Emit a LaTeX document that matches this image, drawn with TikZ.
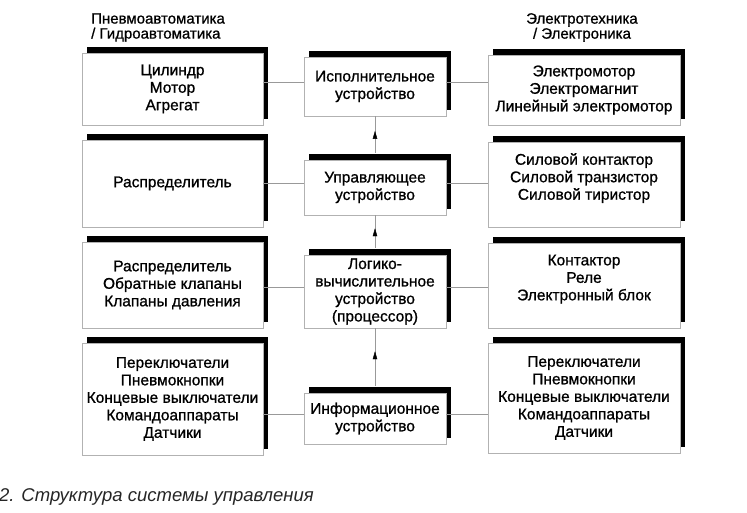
\documentclass[tikz,border=0pt]{standalone}
\usepackage{fontspec}
\setmainfont{Liberation Sans}
\newfontfamily\scanfont{Liberation Sans}[FakeBold=0.9]
\usetikzlibrary{shadows,arrows.meta,decorations.markings}
\begin{document}
\begin{tikzpicture}[x=1pt,y=1pt]
\useasboundingbox (0,0) rectangle (747,513);

\tikzstyle{blk} = [draw=black!30, thin, fill=white, shape=rectangle, align=center, inner sep=0pt, font=\scanfont\fontsize{15.5}{17.5}\selectfont, drop shadow={shadow xshift=5pt, shadow yshift=6pt, opacity=1, fill=black}]
\tikzstyle{lbox} = [blk, minimum width=181pt]
\tikzstyle{mbox} = [blk, minimum width=142pt]
\tikzstyle{rbox} = [blk, minimum width=192pt]
\tikzstyle{head} = [inner sep=0pt, font=\scanfont\fontsize{15}{15}\selectfont]
\tikzstyle{link} = [draw=black!40, thin]
\tikzstyle{midarrow} = [postaction={decorate}, decoration={markings, mark=at position 0.6 with {\arrow[black]{Triangle[length=8pt,width=4.5pt]}}}]

\node at (91,485.5) [head, align=left, anchor=west] (pnhead) {Пневмоавтоматика\\ / Гидроавтоматика};
\node at (582,485.5) [head, align=center] (elhead) {Электротехника\\ / Электроника};

% left column
\node at (172.5,424) [lbox, minimum height=72pt] (L1) {Цилиндр\\Мотор\\Агрегат};
\node at (172.5,329.5) [lbox, minimum height=87pt] (L2) {Распределитель};
\node at (172.5,228) [lbox, minimum height=86pt] (L3) {Распределитель\\Обратные клапаны\\Клапаны давления};
\node at (172.5,114) [lbox, minimum height=112pt] (L4) {Переключатели\\Пневмокнопки\\Концевые выключатели\\Командоаппараты\\Датчики};

% middle column
\node at (375,426.5) [mbox, minimum height=59pt] (M1) {Исполнительное\\устройство};
\node at (375,325.5) [mbox, minimum height=55pt] (M2) {Управляющее\\устройство};
\node at (375,221.5) [mbox, minimum height=73pt] (M3) {Логико-\\вычислительное\\устройство\\(процессор)};
\node at (375,94.5) [mbox, minimum height=51pt] (M4) {Информационное\\устройство};

% right column
\node at (584,423) [rbox, minimum height=70pt] (R1) {Электромотор\\Электромагнит\\Линейный электромотор};
\node at (584,328.5) [rbox, minimum height=85pt] (R2) {Силовой контактор\\Силовой транзистор\\Силовой тиристор\\[-1.5pt]\mbox{}};
\node at (584,227.5) [rbox, minimum height=85pt] (R3) {Контактор\\Реле\\Электронный блок\\[-1.5pt]\mbox{}};
\node at (584,115) [rbox, minimum height=110pt] (R4) {Переключатели\\Пневмокнопки\\Концевые выключатели\\Командоаппараты\\Датчики};

\foreach \r in {1,2,3,4} {
  \draw[link] ([yshift=4pt]M\r.west) -- ([yshift=4pt]M\r.west -| L\r.east);
  \draw[link] ([yshift=4pt]M\r.east) -- ([yshift=4pt]M\r.east -| R\r.west);
}

\draw[link, midarrow] ([yshift=7pt]M2.north) -- (M1.south);
\draw[link, midarrow] ([yshift=7pt]M3.north) -- (M2.south);
\draw[link, midarrow] ([yshift=7pt]M4.north) -- (M3.south);

\node at (-1,11) [anchor=base west, inner sep=0pt, text=black!85, font=\fontsize{18.5}{19}\selectfont\itshape] (caption) {2. Структура системы управления};
\end{tikzpicture}
\end{document}
